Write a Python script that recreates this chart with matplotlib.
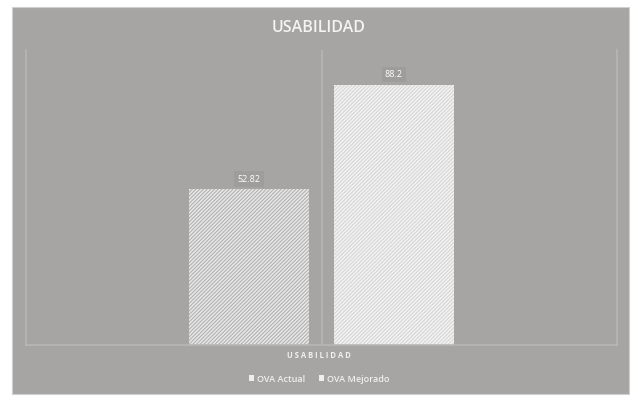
import matplotlib.pyplot as plt
from matplotlib.patches import Rectangle

plt.rcParams['font.family'] = ['Open Sans', 'DejaVu Sans']
plt.rcParams['hatch.linewidth'] = 0.7

# datos
series = ['OVA Actual', 'OVA Mejorado']
valores = [52.82, 88.2]
etiquetas = ['52.82', '88.2']
categoria = 'USABILIDAD'

fondo = '#a6a5a3'
linea = '#b8b7b5'
relleno = ['#e6e6e6', '#f2f2f2']
rayado = ['#adadad', '#d2d2d2']

fig = plt.figure(figsize=(6.38, 4.0), dpi=100, facecolor='white')
fig.patches.append(Rectangle((12/638, 6/400), 617/638, 387/400,
                             transform=fig.transFigure, facecolor=fondo,
                             edgecolor='#d0d0d0', linewidth=0.8, zorder=-5))

ax = fig.add_axes([26/638, 55/400, 591/638, 295/400])
ax.set_facecolor('none')
ax.set_zorder(2)

ancho = 0.406
pos = [-0.245, 0.245]
for i in range(2):
    ax.bar(pos[i], valores[i], width=ancho, color=relleno[i],
           edgecolor=rayado[i], linewidth=0, hatch='/////////', label=series[i])
    ax.text(pos[i], valores[i] + 3.4, etiquetas[i], ha='center', va='center',
            fontsize=6.5, color='white',
            bbox=dict(boxstyle='square,pad=0.35', facecolor='#9e9d9b',
                      edgecolor='none'))

ax.set_xlim(-1, 1)
ax.set_ylim(0, 100)
ax.axvline(0, color=linea, linewidth=1.2, zorder=0)
for s in ['left', 'right', 'bottom']:
    ax.spines[s].set_color(linea)
    ax.spines[s].set_linewidth(1.2)
ax.spines['top'].set_visible(False)
ax.set_yticks([])
ax.set_xticks([])

fig.text(0.5, (400 - 28)/400, 'USABILIDAD', ha='center', va='center',
         fontsize=11.5, color='#f4f4f4', fontweight='semibold')
fig.text(0.5, (400 - 355)/400, ' '.join(categoria),
         ha='center', va='center', fontsize=5.5, color='#f0f0f0',
         fontweight='bold')

leg = fig.legend(loc='center', bbox_to_anchor=(0.5, (400 - 379)/400),
                 ncol=2, frameon=False, fontsize=6.5, handlelength=0.6,
                 handleheight=0.6, handletextpad=0.3, columnspacing=1.5)
for t in leg.get_texts():
    t.set_color('#f0f0f0')
    t.set_fontweight('semibold')
for h in leg.legend_handles:
    h.set_hatch(None)
    h.set_facecolor('#eeeeee')

fig.savefig('out.png', dpi=100, facecolor='white')
